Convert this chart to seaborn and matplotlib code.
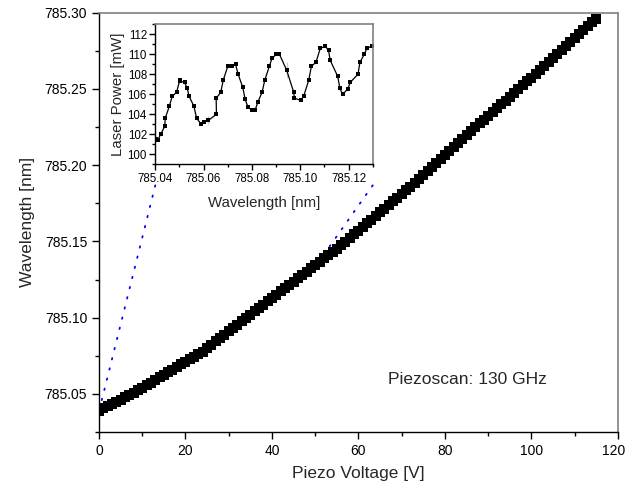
import numpy as np
import pandas as pd
import seaborn as sns
import matplotlib.pyplot as plt
import matplotlib.transforms as mtransforms
from matplotlib.patches import ConnectionPatch
from matplotlib.ticker import MultipleLocator

# main scan: piezo voltage [V] vs wavelength [nm]
voltage = [0, 1, 2, 3, 4, 5, 6, 7, 8, 9, 10, 11, 12, 13, 14, 15, 16, 17, 18, 19,
           20, 21, 22, 23, 24, 25, 26, 27, 28, 29, 30, 31, 32, 33, 34, 35, 36, 37, 38, 39,
           40, 41, 42, 43, 44, 45, 46, 47, 48, 49, 50, 51, 52, 53, 54, 55, 56, 57, 58, 59,
           60, 61, 62, 63, 64, 65, 66, 67, 68, 69, 70, 71, 72, 73, 74, 75, 76, 77, 78, 79,
           80, 81, 82, 83, 84, 85, 86, 87, 88, 89, 90, 91, 92, 93, 94, 95, 96, 97, 98, 99,
           100, 101, 102, 103, 104, 105, 106, 107, 108, 109, 110, 111, 112, 113, 114, 115]
wavelength = [785.0390, 785.0405, 785.0419, 785.0434, 785.0448, 785.0463, 785.0477, 785.0492,
              785.0506, 785.0523, 785.0540, 785.0557, 785.0574, 785.0591, 785.0608, 785.0625,
              785.0642, 785.0659, 785.0676, 785.0693, 785.0710, 785.0727, 785.0744, 785.0761,
              785.0778, 785.0800, 785.0822, 785.0844, 785.0866, 785.0888, 785.0910, 785.0932,
              785.0954, 785.0976, 785.0998, 785.1020, 785.1042, 785.1064, 785.1086, 785.1108,
              785.1130, 785.1151, 785.1173, 785.1194, 785.1216, 785.1237, 785.1259, 785.1280,
              785.1302, 785.1323, 785.1345, 785.1366, 785.1388, 785.1409, 785.1431, 785.1452,
              785.1474, 785.1498, 785.1522, 785.1546, 785.1570, 785.1594, 785.1618, 785.1642,
              785.1666, 785.1690, 785.1714, 785.1738, 785.1762, 785.1786, 785.1810, 785.1834,
              785.1858, 785.1884, 785.1910, 785.1936, 785.1962, 785.1988, 785.2014, 785.2040,
              785.2066, 785.2092, 785.2118, 785.2144, 785.2170, 785.2196, 785.2222, 785.2248,
              785.2274, 785.2299, 785.2324, 785.2349, 785.2374, 785.2399, 785.2424, 785.2449,
              785.2474, 785.2499, 785.2524, 785.2549, 785.2574, 785.2600, 785.2626, 785.2652,
              785.2678, 785.2704, 785.2730, 785.2756, 785.2782, 785.2808, 785.2834, 785.2860,
              785.2886, 785.2912, 785.2938, 785.2960]

# inset: laser power [mW] vs wavelength [nm]
inset_wl = [785.0401, 785.0410, 785.0422, 785.0439, 785.0441, 785.0458, 785.0470, 785.0488,
            785.0501, 785.0503, 785.0521, 785.0532, 785.0540, 785.0560, 785.0571, 785.0591,
            785.0602, 785.0620, 785.0620, 785.0653, 785.0652, 785.0671, 785.0681, 785.0700,
            785.0717, 785.0732, 785.0743, 785.0762, 785.0772, 785.0784, 785.0801, 785.0813,
            785.0824, 785.0842, 785.0853, 785.0872, 785.0883, 785.0901, 785.0914, 785.0944,
            785.0944, 785.0973, 785.0976, 785.1003, 785.1014, 785.1035, 785.1046, 785.1065,
            785.1083, 785.1104, 785.1117, 785.1124, 785.1155, 785.1164, 785.1175, 785.1196,
            785.1207, 785.1239, 785.1247, 785.1265, 785.1276, 785.1296]
inset_power = [101.5, 101.4, 102.0, 102.8, 103.6, 104.8, 105.8, 106.2,
               107.4, 107.3, 107.2, 106.6, 105.8, 104.8, 103.6, 103.0,
               103.2, 103.0, 103.8, 104.0, 105.6, 106.2, 107.4, 108.8,
               108.8, 109.0, 108.0, 106.7, 105.5, 104.7, 104.4, 104.4,
               105.2, 106.2, 107.4, 108.8, 109.6, 110.0, 110.0, 109.2,
               107.6, 106.2, 105.6, 105.4, 105.8, 107.4, 108.8, 109.2,
               110.6, 110.8, 110.4, 109.4, 107.8, 106.6, 106.0, 106.5,
               107.2, 108.0, 109.2, 110.0, 110.6, 110.8]

annotation = "Piezoscan: 130 GHz"
zoom_volts = [0.5, 53.0]  # where the zoom guides meet the scan curve

sns.set_style("ticks")
plt.rcParams['font.family'] = ['Liberation Sans', 'DejaVu Sans']


def style_axes(ax, major_len, minor_len, labelsize):
    for side in ["top", "right"]:
        ax.spines[side].set_color("#808080")
        ax.spines[side].set_linewidth(1.2)
    for side in ["left", "bottom"]:
        ax.spines[side].set_color("black")
        ax.spines[side].set_linewidth(1.0)
    ax.tick_params(which="major", direction="out", length=major_len, width=1,
                   color="black", labelsize=labelsize, labelcolor="black")
    ax.tick_params(which="minor", direction="out", length=minor_len, width=1, color="black")


fig = plt.figure(figsize=(6.28, 4.96), dpi=100)
ax = fig.add_axes([0.1576, 0.129, 0.8264, 0.8454])

main_df = pd.DataFrame({"voltage": voltage, "wavelength": wavelength})
sns.scatterplot(data=main_df, x="voltage", y="wavelength", marker="s", s=58,
                color="black", linewidth=0, ax=ax)
ax.set_xlim(0, 120)
ax.set_ylim(785.025, 785.30)
ax.xaxis.set_major_locator(MultipleLocator(20))
ax.xaxis.set_minor_locator(MultipleLocator(10))
ax.yaxis.set_major_locator(MultipleLocator(0.05))
ax.yaxis.set_minor_locator(MultipleLocator(0.025))
ax.yaxis.set_major_formatter(plt.FormatStrFormatter("%.2f"))
style_axes(ax, 5, 3, 10)
ax.set_xlabel("Piezo Voltage [V]", fontsize=12.5, labelpad=6)
ax.set_ylabel("Wavelength [nm]", fontsize=12.5, labelpad=7)
ax.text(0.557, 0.126, annotation, transform=ax.transAxes, fontsize=12.5, va="center")

# keep the "120" label inside the figure edge
fig.canvas.draw()
last_label = [t for t in ax.get_xticklabels() if t.get_text() == "120"]
for t in last_label:
    t.set_transform(t.get_transform() + mtransforms.ScaledTranslation(-3 / 72, 0, fig.dpi_scale_trans))

# inset
axin = fig.add_axes([0.2473, 0.6687, 0.3462, 0.2823])
inset_df = pd.DataFrame({"wl": inset_wl, "power": inset_power})
sns.lineplot(data=inset_df, x="wl", y="power", sort=False, color="black", lw=0.9,
             marker="s", markersize=3.5, markeredgewidth=0, ax=axin)
axin.set_xlim(785.04, 785.13)
axin.set_ylim(99, 113)
axin.xaxis.set_major_locator(MultipleLocator(0.02))
axin.xaxis.set_minor_locator(MultipleLocator(0.01))
axin.yaxis.set_major_locator(MultipleLocator(2))
axin.yaxis.set_minor_locator(MultipleLocator(1))
axin.xaxis.set_major_formatter(plt.FormatStrFormatter("%.2f"))
style_axes(axin, 4, 2, 8.3)
axin.tick_params(which="major", pad=2)
axin.set_xlabel("Wavelength [nm]", fontsize=10.8, labelpad=8)
axin.set_ylabel("Laser Power [mW]", fontsize=10.8, labelpad=2)

# dotted zoom guides from the inset down to the scan curve
for frac_x, v in zip([0.0, 1.0], zoom_volts):
    wl = np.interp(v, voltage, wavelength) + 0.0045
    con = ConnectionPatch(xyA=(frac_x, -0.15), coordsA=axin.transAxes,
                          xyB=(v, wl), coordsB=ax.transData,
                          color="blue", lw=1.3, linestyle=(0, (0.8, 5)))
    fig.add_artist(con)

plt.savefig("out.png", dpi=100)
